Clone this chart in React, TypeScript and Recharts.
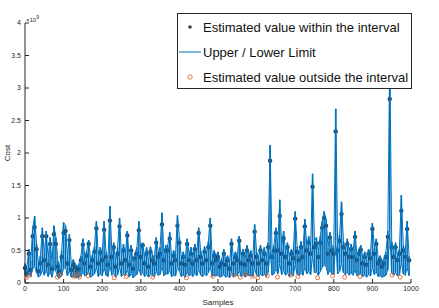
import React from 'react';
import { ComposedChart, Line, Scatter, Bar, XAxis, YAxis } from 'recharts';

// values in units of 1e7 (the axis shows x10^9), one entry every 5 samples
const SAMPLE_STEP = 5;

const EST = [
  23, 15, 45, 20, 72, 86, 52, 18, 30, 72,
  35, 72, 28, 60, 22, 75, 60, 25, 18, 40,
  77, 80, 30, 66, 20, 28, 24, 18, 22, 35,
  59, 30, 42, 60, 25, 35, 48, 84, 30, 47,
  35, 82, 40, 28, 96, 40, 55, 25, 45, 87,
  30, 50, 35, 73, 28, 50, 22, 38, 45, 81,
  40, 58, 30, 45, 25, 48, 35, 30, 62, 40,
  45, 90, 35, 50, 50, 68, 30, 42, 35, 88,
  62, 30, 40, 28, 60, 35, 45, 30, 52, 35,
  77, 40, 30, 48, 35, 55, 88, 30, 42, 35,
  40, 25, 30, 45, 28, 35, 22, 60, 30, 40,
  35, 65, 30, 45, 28, 50, 35, 42, 30, 79,
  40, 30, 50, 35, 45, 30, 55, 188, 40, 50,
  77, 50, 103, 45, 69, 40, 55, 30, 45, 38,
  99, 48, 35, 55, 40, 87, 50, 62, 45, 148,
  55, 60, 40, 62, 85, 100, 88, 45, 70, 50,
  45, 233, 50, 65, 106, 55, 45, 60, 40, 52,
  40, 71, 35, 45, 51, 30, 40, 28, 45, 38,
  83, 45, 60, 30, 35, 25, 30, 40, 71, 283,
  55, 40, 55, 35, 45, 111, 50, 40, 83, 35,
];

const UPPER = [
  30, 24, 52, 34, 85, 103, 60, 28, 42, 85,
  45, 80, 38, 70, 30, 88, 70, 34, 26, 50,
  93, 88, 40, 75, 28, 36, 30, 25, 30, 42,
  68, 40, 50, 66, 34, 44, 56, 95, 38, 55,
  45, 95, 48, 36, 118, 48, 62, 33, 55, 100,
  38, 60, 44, 80, 36, 58, 30, 46, 55, 95,
  50, 62, 38, 55, 32, 56, 44, 38, 70, 48,
  55, 108, 44, 58, 58, 78, 38, 50, 44, 104,
  70, 38, 48, 36, 68, 44, 55, 38, 60, 44,
  85, 50, 38, 56, 44, 64, 100, 38, 50, 42,
  48, 32, 38, 52, 36, 42, 30, 68, 38, 48,
  42, 72, 38, 52, 36, 58, 44, 50, 38, 90,
  48, 38, 58, 42, 55, 38, 62, 212, 48, 58,
  85, 60, 128, 55, 80, 48, 62, 38, 52, 46,
  110, 56, 42, 64, 48, 98, 58, 72, 55, 168,
  65, 70, 48, 72, 95, 110, 98, 55, 78, 58,
  55, 268, 58, 74, 125, 64, 52, 68, 48, 60,
  48, 80, 42, 52, 58, 38, 48, 36, 52, 46,
  92, 55, 68, 38, 42, 32, 38, 48, 80, 350,
  64, 48, 62, 42, 52, 135, 58, 48, 95, 42,
];

const LOWER = [
  11, 9, 14, 10, 22, 26, 16, 9, 12, 20,
  12, 20, 10, 17, 9, 22, 18, 9, 8, 12,
  22, 24, 11, 19, 9, 10, 9, 8, 9, 11,
  17, 11, 12, 18, 9, 11, 14, 24, 10, 14,
  11, 23, 12, 10, 27, 12, 16, 9, 13, 25,
  10, 14, 11, 21, 9, 15, 8, 11, 13, 23,
  12, 17, 10, 13, 9, 14, 11, 10, 18, 12,
  13, 26, 11, 14, 14, 20, 10, 12, 11, 25,
  18, 10, 12, 9, 17, 11, 13, 10, 15, 11,
  22, 12, 10, 14, 11, 16, 25, 10, 12, 11,
  12, 9, 10, 13, 9, 11, 8, 17, 10, 12,
  11, 19, 10, 13, 9, 14, 11, 12, 10, 23,
  12, 10, 14, 11, 13, 10, 16, 50, 12, 14,
  22, 14, 30, 13, 20, 12, 16, 10, 13, 11,
  28, 14, 11, 16, 12, 25, 14, 18, 13, 42,
  16, 17, 12, 18, 24, 28, 25, 13, 20, 14,
  13, 65, 14, 18, 30, 16, 13, 17, 12, 15,
  12, 20, 11, 13, 15, 10, 12, 9, 13, 11,
  24, 13, 17, 10, 11, 9, 10, 12, 20, 80,
  16, 12, 16, 11, 13, 32, 14, 12, 24, 11,
];

// estimates that fall outside the interval
const OUT_X = [3, 12, 84, 92, 127, 134, 141, 163, 231, 262, 331, 418, 487, 541, 558, 572, 589, 603, 628, 654, 688, 707, 758, 797, 828, 868, 951, 972];
const OUT_Y = [8, 12, 9, 13, 10, 14, 9, 11, 8, 10, 9, 8, 10, 12, 9, 13, 10, 8, 11, 9, 12, 10, 8, 11, 9, 10, 12, 9];

const X_TICKS = [0, 100, 200, 300, 400, 500, 600, 700, 800, 900, 1000];
const Y_TICKS = [0, 0.5, 1, 1.5, 2, 2.5, 3, 3.5, 4];

const BLUE = '#0072BD';
const DOT = '#333d4c';
const ORANGE = '#D95319';
const AXIS = '#262626';
const FONT = '"Liberation Sans", Arial, Helvetica, sans-serif';

const data = EST.map((e, i) => ({
  x: i * SAMPLE_STEP,
  est: e / 100,
  upper: UPPER[i] / 100,
  lower: LOWER[i] / 100,
  range: [LOWER[i] / 100, UPPER[i] / 100],
}));

const outside = OUT_X.map((x, i) => ({ x, out: OUT_Y[i] / 100 }));

const tickStyle = { fontSize: 7, fill: AXIS, fontFamily: FONT };

// one sample: the estimate dot, with the interval segment drawn over it
const IntervalShape = (p: any) => {
  const { x, y, width, height, payload } = p;
  if (!payload || height == null) return <g />;
  const cx = x + width / 2;
  const span = payload.upper - payload.lower;
  const cy = span > 0 ? y + (height * (payload.upper - payload.est)) / span : y;
  return (
    <g>
      <circle cx={cx} cy={cy} r={2.2} fill={DOT} />
      <line x1={cx} x2={cx} y1={y} y2={y + height} stroke={BLUE} strokeWidth={1.6} />
    </g>
  );
};

export default function App() {
  return (
    <div style={{ position: 'absolute', left: 0, top: 0, width: 439, height: 308, background: '#fff', fontFamily: FONT }}>
      <ComposedChart width={439} height={308} data={data} margin={{ top: 23, right: 28, bottom: 0, left: 0 }}>
        <XAxis
          xAxisId="b"
          dataKey="x"
          type="number"
          domain={[0, 1000]}
          ticks={X_TICKS}
          height={25}
          tickSize={-4}
          tickMargin={7}
          stroke={AXIS}
          tick={tickStyle}
          label={{ value: 'Samples', position: 'insideBottom', offset: 3, fontSize: 8, fill: AXIS, fontFamily: FONT }}
        />
        <XAxis
          xAxisId="t"
          orientation="top"
          dataKey="x"
          type="number"
          domain={[0, 1000]}
          ticks={X_TICKS}
          height={0}
          tickSize={-4}
          stroke={AXIS}
          tickFormatter={() => ''}
        />
        <YAxis
          yAxisId="l"
          type="number"
          domain={[0, 4]}
          ticks={Y_TICKS}
          width={25}
          tickSize={-4}
          tickMargin={8}
          stroke={AXIS}
          tick={tickStyle}
          tickFormatter={(v: number) => String(v)}
          label={{
            content: (p: any) => {
              const vb = p.viewBox;
              const cy = vb.y + vb.height / 2;
              return (
                <text x={8} y={cy} transform={`rotate(-90 8 ${cy})`} textAnchor="middle" dominantBaseline="middle" fontSize={8} fill={AXIS} fontFamily={FONT}>
                  Cost
                </text>
              );
            },
          }}
        />
        <YAxis
          yAxisId="r"
          orientation="right"
          type="number"
          domain={[0, 4]}
          ticks={Y_TICKS}
          width={0}
          tickSize={-4}
          stroke={AXIS}
          tickFormatter={() => ''}
        />
        <Bar xAxisId="b" yAxisId="l" dataKey="range" barSize={2} shape={IntervalShape} isAnimationActive={false} />
        <Line xAxisId="b" yAxisId="l" dataKey="upper" stroke={BLUE} strokeWidth={1} dot={false} isAnimationActive={false} />
        <Line xAxisId="b" yAxisId="l" dataKey="lower" stroke={BLUE} strokeWidth={1} dot={false} isAnimationActive={false} />
        <Scatter
          xAxisId="b"
          yAxisId="l"
          data={outside}
          dataKey="out"
          isAnimationActive={false}
          shape={(p: any) => <circle cx={p.cx} cy={p.cy} r={2} fill="none" stroke={ORANGE} strokeWidth={0.8} />}
        />
      </ComposedChart>

      <div style={{ position: 'absolute', left: 26, top: 14, fontSize: 6, color: AXIS }}>
        ×10<sup style={{ fontSize: 5 }}>9</sup>
      </div>

      <div
        style={{
          position: 'absolute',
          left: 177,
          top: 13,
          width: 233,
          height: 74,
          background: '#fff',
          border: '1px solid #262626',
          fontSize: 13,
          color: '#111',
        }}
      >
        {[
          { label: 'Estimated value within the interval', kind: 'dot' },
          { label: 'Upper / Lower Limit', kind: 'line' },
          { label: 'Estimated value outside the interval', kind: 'circle' },
        ].map((row, i) => (
          <div key={i} style={{ position: 'absolute', left: 0, top: 3 + i * 25, height: 20, display: 'flex', alignItems: 'center' }}>
            <svg width={25} height={20} style={{ display: 'block' }}>
              {row.kind === 'dot' && <circle cx={12} cy={10} r={1.8} fill={DOT} />}
              {row.kind === 'line' && <line x1={1} x2={23} y1={10} y2={10} stroke={BLUE} strokeWidth={1} />}
              {row.kind === 'circle' && <circle cx={12} cy={10} r={2.2} fill="none" stroke={ORANGE} strokeWidth={0.8} />}
            </svg>
            <span style={{ whiteSpace: 'nowrap' }}>{row.label}</span>
          </div>
        ))}
      </div>
    </div>
  );
}
